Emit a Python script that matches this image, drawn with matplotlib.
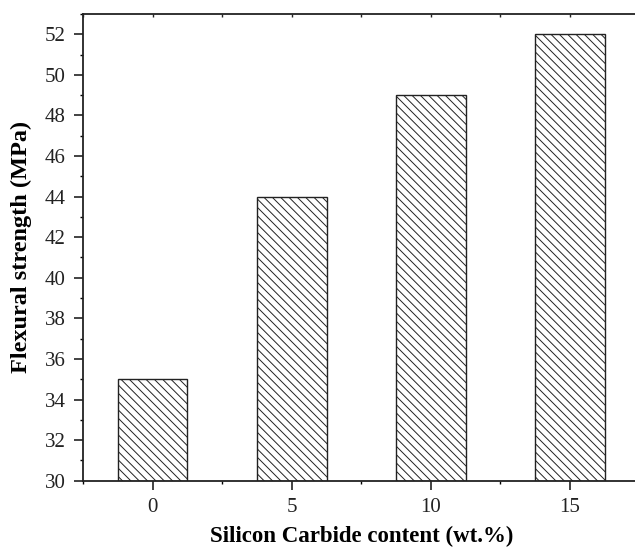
import matplotlib
matplotlib.use("Agg")
import matplotlib.pyplot as plt
from matplotlib.ticker import MultipleLocator

sic_content = [0, 5, 10, 15]
flexural_strength = [35, 44, 49, 52]
y_ticks = [30, 32, 34, 36, 38, 40, 42, 44, 46, 48, 50, 52]

plt.rcParams['font.family'] = ['Liberation Serif', 'DejaVu Serif']
plt.rcParams['hatch.linewidth'] = 0.7

fig = plt.figure(figsize=(6.35, 5.49), dpi=100)
ax = fig.add_axes([0.1307, 0.1244, 0.8766, 0.8501])

ax.bar(sic_content, [v - 30 for v in flexural_strength], bottom=30, width=2.5,
       facecolor='white', edgecolor='#222222', linewidth=1.0, hatch='\\\\\\\\')

ax.set_xlim(-2.5, 17.5)
ax.set_ylim(30, 53)
ax.set_xticks(sic_content)
ax.set_yticks(y_ticks)
ax.xaxis.set_minor_locator(MultipleLocator(2.5))
ax.yaxis.set_minor_locator(MultipleLocator(1))
ax.tick_params(axis='both', which='major', direction='out', length=6.5, width=1.2,
               pad=6, labelsize=15, colors='#222222')
ax.tick_params(axis='both', which='minor', direction='out', length=2.5, width=1)

# small inward ticks along the top edge
top = ax.secondary_xaxis('top')
top.set_xticks([-2.5, 0, 2.5, 5, 7.5, 10, 12.5, 15, 17.5])
top.tick_params(direction='in', length=2.5, width=1, labeltop=False, colors='#222222')
top.spines['top'].set_visible(False)

for s in ax.spines.values():
    s.set_linewidth(1.3)
    s.set_color('#222222')

ax.set_xlabel('Silicon Carbide content (wt.%)', fontsize=16.5, fontweight='bold', labelpad=6)
ax.set_ylabel('Flexural strength (MPa)', fontsize=17.5, fontweight='bold', labelpad=9)

fig.savefig('out.png', dpi=100)
